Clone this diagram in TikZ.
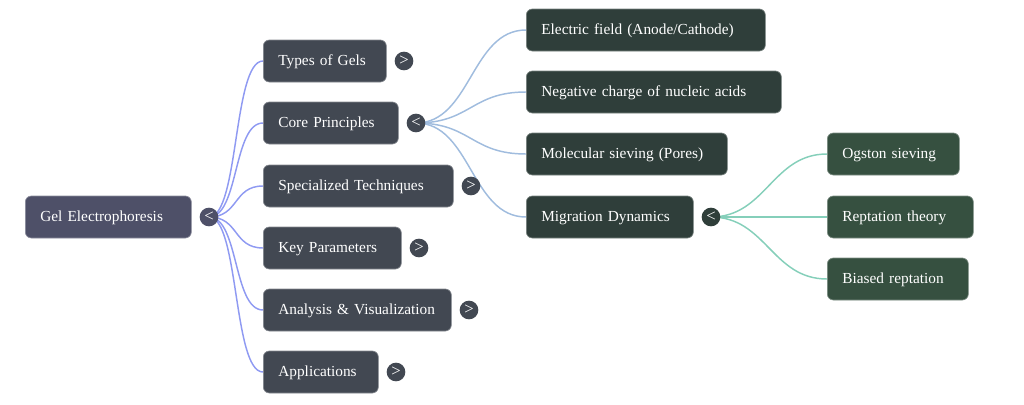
\documentclass[tikz,border=0pt]{standalone}
\usepackage{fontspec}
\setmainfont{Liberation Serif}
\usetikzlibrary{backgrounds}
\hyphenpenalty=10000
\exhyphenpenalty=10000
\definecolor{rootfill}{HTML}{4E5068}
\definecolor{onefill}{HTML}{424852}
\definecolor{twofill}{HTML}{2F3E3A}
\definecolor{threefill}{HTML}{365040}
\definecolor{rootedge}{HTML}{8F9AF2}
\definecolor{coreedge}{HTML}{A0BCDE}
\definecolor{migedge}{HTML}{85CFBA}
\tikzset{
  mmbox/.style={rounded corners=4.5pt, text=white,
    font=\fontsize{11.5}{13.5}\selectfont,
    inner xsep=11.25pt, inner ysep=0pt, minimum height=31.5pt, text height=8.6pt, text depth=2pt,
    text width={(#1-29)*0.75pt}, align=left,
    anchor=west, line width=0.5pt},
  rootbox/.style={mmbox=#1, fill=rootfill, draw=rootfill!65!white},
  onebox/.style={mmbox=#1, fill=onefill, draw=onefill!65!white},
  twobox/.style={mmbox=#1, fill=twofill, draw=twofill!65!white},
  threebox/.style={mmbox=#1, fill=threefill, draw=threefill!65!white},
  tog/.style={circle, minimum size=14pt, inner sep=0pt, text=white, font=\fontsize{12.5}{12.5}\selectfont},
  link/.style={line width=1.1pt},
}
\begin{document}
\begin{tikzpicture}[x=0.75pt,y=-0.75pt]
\useasboundingbox (0,0) rectangle (1024,404);
% root
\node[rootbox=165] (root) at (25,217) {Gel Electrophoresis};
\node[tog, fill=rootfill] (troot) at ([xshift=13pt]root.east) {<};
% level 1
\node[onebox=122] (types) at (263,61) {Types of Gels};
\node[onebox=134] (core) at (263,123) {Core Principles};
\node[onebox=189] (spec) at (263,186) {Specialized Techniques};
\node[onebox=137] (key) at (263,248) {Key Parameters};
\node[onebox=187] (anal) at (263,310) {Analysis \& Visualization};
\node[onebox=114] (appl) at (263,372) {Applications};
\node[tog, fill=onefill] (ttypes) at ([xshift=13pt]types.east) {>};
\node[tog, fill=onefill] (tcore) at ([xshift=13pt]core.east) {<};
\node[tog, fill=onefill] (tspec) at ([xshift=13pt]spec.east) {>};
\node[tog, fill=onefill] (tkey) at ([xshift=13pt]key.east) {>};
\node[tog, fill=onefill] (tanal) at ([xshift=13pt]anal.east) {>};
\node[tog, fill=onefill] (tappl) at ([xshift=13pt]appl.east) {>};
% level 2
\node[twobox=238] (elec) at (526,30) {Electric field (Anode/Cathode)};
\node[twobox=254] (neg) at (526,92) {Negative charge of nucleic acids};
\node[twobox=200] (mol) at (526,154) {Molecular sieving (Pores)};
\node[twobox=166] (mig) at (526,217) {Migration Dynamics};
\node[tog, fill=twofill] (tmig) at ([xshift=13pt]mig.east) {<};
% level 3
\node[threebox=131] (ogs) at (827,154) {Ogston sieving};
\node[threebox=145] (rep) at (827,217) {Reptation theory};
\node[threebox=140] (bia) at (827,279) {Biased reptation};
\begin{scope}[on background layer]
\foreach \n in {types,core,spec,key,anal,appl}
  \draw[link, rootedge] (troot.center) .. controls +(30,0) and +(-30,0) .. (\n.west);
\foreach \n in {elec,neg,mol,mig}
  \draw[link, coreedge] (tcore.center) .. controls +(55,0) and +(-55,0) .. (\n.west);
\foreach \n in {ogs,rep,bia}
  \draw[link, migedge] (tmig.center) .. controls +(55,0) and +(-55,0) .. (\n.west);
\end{scope}
\end{tikzpicture}
\end{document}
